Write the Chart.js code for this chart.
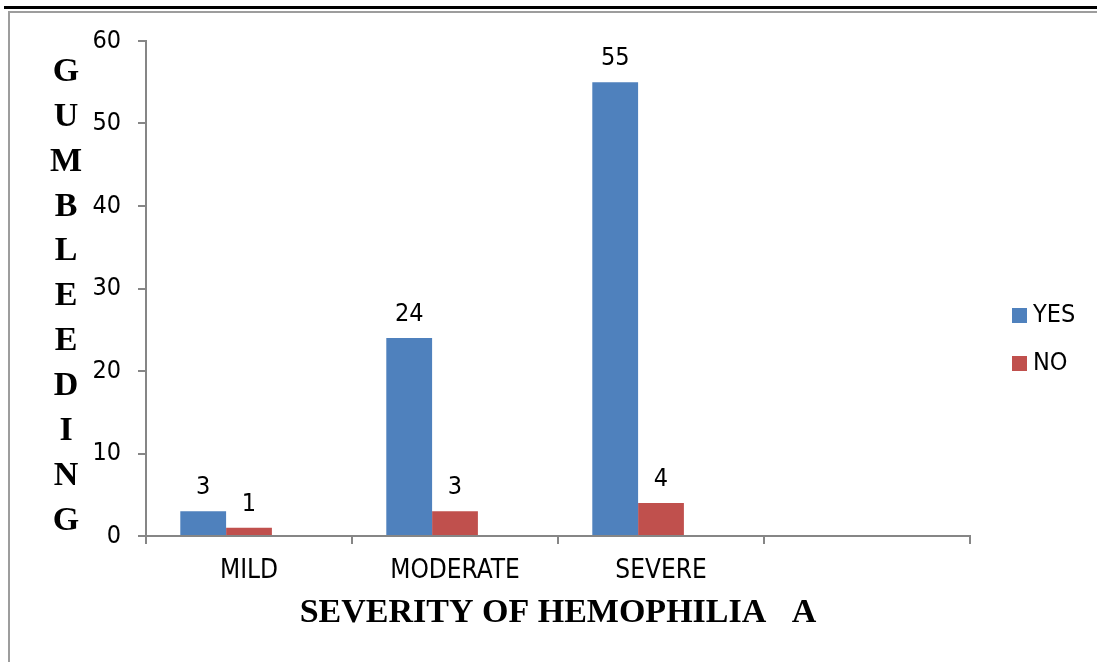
<!DOCTYPE html>
<html>

<head>
    <title>Gum bleeding by severity of hemophilia A</title>
    <script src="https://cdn.jsdelivr.net/npm/chart.js"></script>
    <style>
        body { margin: 0; background: #fff; }
        #frame { position: relative; width: 1097px; height: 662px; overflow: hidden; }
        .rule { position: absolute; }
        #topBlack { left: 4px; top: 6px; width: 1093px; height: 3px; background: #000; }
        #topGray { left: 8px; top: 11px; right: 0; height: 2px; background: #9d9d9d; }
        #leftGray { left: 8px; top: 11px; bottom: 0; width: 2px; background: #9d9d9d; }
        #myChart { position: absolute; left: 0; top: 0; }
    </style>
</head>

<body>

    <div id="frame">
        <div class="rule" id="topBlack"></div>
        <div class="rule" id="topGray"></div>
        <div class="rule" id="leftGray"></div>
        <canvas id="myChart" width="1097" height="662"></canvas>
    </div>

    <script>
        // categories on the x axis (the last slot is left empty)
        const categories = ['MILD', 'MODERATE', 'SEVERE', ''];
        // patients with / without gum bleeding
        const yesValues = [3, 24, 55, null];
        const noValues = [1, 3, 4, null];
        // unused third series, it only keeps its slot in each group
        const blankValues = [null, null, null, null];
        const seriesNames = ['YES', 'NO', ''];
        const yTicks = [0, 10, 20, 30, 40, 50, 60];
        const xTitle = 'SEVERITY OF HEMOPHILIA   A';
        const yTitle = 'GUMBLEEDING';

        const narrow = '"Liberation Sans Narrow", "DejaVu Sans Condensed", sans-serif';
        const serif = '"Liberation Serif", "Times New Roman", serif';
        const axisGray = '#868686';

        // y title written as a column of upright letters
        const stackedTitle = {
            id: 'stackedTitle',
            afterDraw(chart) {
                const ctx = chart.ctx;
                ctx.save();
                ctx.font = 'bold 34px ' + serif;
                ctx.fillStyle = '#000';
                ctx.textAlign = 'center';
                ctx.textBaseline = 'alphabetic';
                yTitle.split('').forEach((ch, i) => ctx.fillText(ch, 66, 81 + i * 44.85));
                ctx.restore();
            }
        };

        // value printed above each bar
        const valueLabels = {
            id: 'valueLabels',
            afterDatasetsDraw(chart) {
                const ctx = chart.ctx;
                ctx.save();
                ctx.font = '25px ' + narrow;
                ctx.fillStyle = '#000';
                ctx.textAlign = 'center';
                ctx.textBaseline = 'alphabetic';
                chart.data.datasets.forEach((ds, i) => {
                    chart.getDatasetMeta(i).data.forEach((bar, j) => {
                        const v = ds.data[j];
                        if (v === null || v === undefined) return;
                        ctx.fillText(v, bar.x, bar.y - 17);
                    });
                });
                ctx.restore();
            }
        };

        // legend on the right, squares + names
        const sideLegend = {
            id: 'sideLegend',
            afterDraw(chart) {
                const ctx = chart.ctx;
                const x = chart.chartArea.right + 42;
                let y = 315.5;
                ctx.save();
                ctx.font = '25px ' + narrow;
                ctx.textAlign = 'left';
                ctx.textBaseline = 'middle';
                chart.data.datasets.forEach(ds => {
                    if (!ds.label) return;
                    ctx.fillStyle = ds.backgroundColor;
                    ctx.fillRect(x, y - 7.5, 15, 15);
                    ctx.fillStyle = '#000';
                    ctx.fillText(ds.label, x + 21, y);
                    y += 48;
                });
                ctx.restore();
            }
        };

        var ctx = document.getElementById('myChart').getContext('2d');

        var myChart = new Chart(ctx, {
            type: 'bar',
            data: {
                labels: categories,
                datasets: [
                    { label: seriesNames[0], data: yesValues, backgroundColor: '#4F81BD' },
                    { label: seriesNames[1], data: noValues, backgroundColor: '#C0504D' },
                    { label: seriesNames[2], data: blankValues, backgroundColor: '#9BBB59' }
                ]
            },
            options: {
                responsive: false,
                animation: false,
                barPercentage: 1,
                categoryPercentage: 0.667,
                layout: { padding: { top: 41, right: 127, left: 0, bottom: 0 } },
                plugins: {
                    legend: { display: false },
                    tooltip: { enabled: false }
                },
                scales: {
                    x: {
                        grid: { drawOnChartArea: false, offset: true, tickLength: 8, color: axisGray, lineWidth: 2 },
                        border: { color: axisGray, width: 2 },
                        ticks: { font: { family: narrow, size: 26 }, color: '#000', padding: 12, maxRotation: 0, autoSkip: false },
                        title: {
                            display: true,
                            text: xTitle,
                            color: '#000',
                            font: { family: serif, size: 34, weight: 'bold' },
                            padding: { top: 0, bottom: 28 }
                        },
                        afterFit(scale) { scale.height = 126; }
                    },
                    y: {
                        min: yTicks[0],
                        max: yTicks[yTicks.length - 1],
                        ticks: { stepSize: yTicks[1] - yTicks[0], font: { family: narrow, size: 25 }, color: '#000', padding: 17 },
                        grid: { drawOnChartArea: false, tickLength: 8, color: axisGray, lineWidth: 2 },
                        border: { color: axisGray, width: 2 },
                        afterFit(scale) { scale.width = 146; }
                    }
                }
            },
            plugins: [stackedTitle, valueLabels, sideLegend]
        });
    </script>

</body>

</html>
